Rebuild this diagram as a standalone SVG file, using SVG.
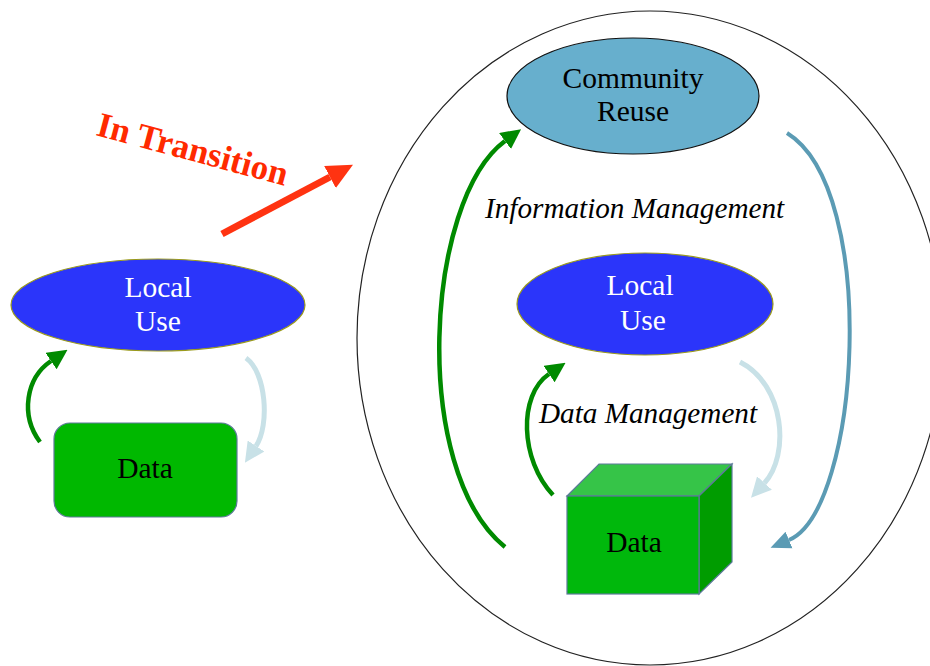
<svg xmlns="http://www.w3.org/2000/svg" width="930" height="666" viewBox="0 0 930 666">
  <style>
    .lbl { font-family: "Liberation Serif", "Times New Roman", serif; font-size: 29.5px; text-anchor: middle; }
    .ital { font-family: "Liberation Serif", "Times New Roman", serif; font-size: 29.2px; font-style: italic; fill: #000; }
    .white { fill: #ffffff; }
    .dark { fill: #000000; }
    .local { fill: #2b35fa; stroke: #9a9a1c; stroke-width: 1.2; }
    .box { stroke: #5c7a99; stroke-width: 1.2; }
    .conn { fill: none; }
  </style>
  <defs>
    <marker id="headGreen" markerUnits="userSpaceOnUse" markerWidth="20" markerHeight="20" refX="0" refY="9" orient="auto" viewBox="0 0 18 18">
      <path d="M0,0 L18,9 L0,18 Z" fill="#008a00"/>
    </marker>
    <marker id="headPale" markerUnits="userSpaceOnUse" markerWidth="20" markerHeight="20" refX="0" refY="9" orient="auto" viewBox="0 0 18 18">
      <path d="M0,0 L18,9 L0,18 Z" fill="#c8e1e7"/>
    </marker>
    <marker id="headTeal" markerUnits="userSpaceOnUse" markerWidth="20" markerHeight="20" refX="0" refY="8" orient="auto" viewBox="0 0 18 16">
      <path d="M0,0 L18,8 L0,16 Z" fill="#5b9bb4"/>
    </marker>
    <marker id="headRed" markerUnits="userSpaceOnUse" markerWidth="26" markerHeight="26" refX="0" refY="12" orient="auto" viewBox="0 0 25 24">
      <path d="M0,0 L25,12 L0,24 Z" fill="#ff3311"/>
    </marker>
  </defs>

  <rect width="930" height="666" fill="#ffffff"/>

  <!-- outer boundary of the information management cycle -->
  <g id="information-scope">
    <ellipse cx="650" cy="338" rx="293" ry="327" fill="none" stroke="#222" stroke-width="1.2"/>
  </g>

  <g id="connectors" class="conn">
    <!-- left cycle -->
    <path d="M40,442 C20,415 26,378 51,361" stroke="#008a00" stroke-width="4.5" marker-end="url(#headGreen)"/>
    <path d="M246,358 C266,372 270,425 256,446" stroke="#c8e1e7" stroke-width="5" marker-end="url(#headPale)"/>
    <!-- transition arrow -->
    <path d="M222,234 L330,177" stroke="#ff3311" stroke-width="7" marker-end="url(#headRed)"/>
    <!-- outer cycle -->
    <path d="M505,547 C410,470 425,200 505,141" stroke="#008a00" stroke-width="4.5" marker-end="url(#headGreen)"/>
    <path d="M787,133 C880,190 860,510 789,540" stroke="#5b9bb4" stroke-width="4" marker-end="url(#headTeal)"/>
    <!-- inner cycle -->
    <path d="M553,495 C520,460 518,395 549,374" stroke="#008a00" stroke-width="4.5" marker-end="url(#headGreen)"/>
    <path d="M740,362 C785,385 790,455 764.5,483" stroke="#c8e1e7" stroke-width="5" marker-end="url(#headPale)"/>
  </g>

  <g id="in-transition-label">
    <text x="95" y="135" transform="rotate(15 95 135)" font-family="Liberation Serif, Times New Roman, serif" font-size="35" font-weight="bold" fill="#ff2a00">In Transition</text>
  </g>

  <g id="local-use-left">
    <ellipse class="local" cx="158" cy="305" rx="147" ry="46"/>
    <text class="lbl white" x="158" y="297">Local</text>
    <text class="lbl white" x="158" y="331">Use</text>
  </g>

  <g id="data-left">
    <rect class="box" x="54" y="423" width="183" height="94" rx="16" fill="#00b800"/>
    <text class="lbl dark" x="145" y="478">Data</text>
  </g>

  <g id="community-reuse">
    <ellipse cx="633" cy="96" rx="126" ry="58" fill="#67afcd" stroke="#111" stroke-width="1.2"/>
    <text class="lbl dark" x="633" y="88">Community</text>
    <text class="lbl dark" x="633" y="121">Reuse</text>
  </g>

  <g id="information-management-label">
    <text class="ital" x="485" y="218">Information Management</text>
  </g>

  <g id="local-use-right">
    <ellipse class="local" cx="645" cy="304" rx="128" ry="51"/>
    <text class="lbl white" x="640" y="295">Local</text>
    <text class="lbl white" x="643" y="330">Use</text>
  </g>

  <g id="data-management-label">
    <text class="ital" x="539" y="423">Data Management</text>
  </g>

  <g id="data-cube">
    <polygon class="box" points="567,496 599,464 732,464 699,496" fill="#36c448"/>
    <polygon class="box" points="699,496 732,464 732,562 699,594" fill="#009c00"/>
    <rect class="box" x="567" y="496" width="132" height="98" fill="#00b80c"/>
    <text class="lbl dark" x="634" y="552">Data</text>
  </g>
</svg>
